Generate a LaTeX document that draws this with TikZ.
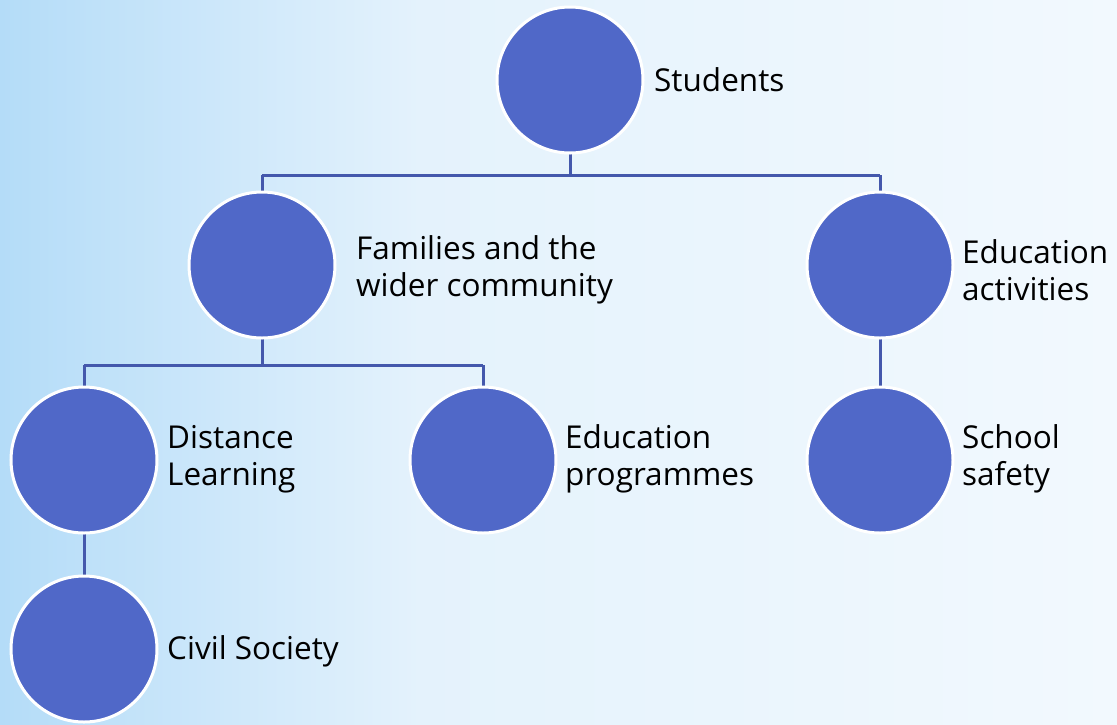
\documentclass[tikz,border=0pt]{standalone}
\usepackage{fontspec}
\setmainfont{Open Sans}
\definecolor{circfill}{HTML}{5068C8}
\definecolor{linecol}{HTML}{4458AC}
\definecolor{bgleft}{HTML}{B4DCF8}
\definecolor{bgmid}{HTML}{E4F2FC}
\definecolor{bgright}{HTML}{F2F9FE}
\tikzset{
  circ/.style={circle, fill=circfill, draw=white, line width=3pt, minimum size=146pt, inner sep=0pt},
  lbl/.style={anchor=west, align=left, font=\fontsize{31.5}{37}\selectfont, text=black, inner sep=0pt},
  conn/.style={draw=linecol, line width=3pt}
}
\begin{document}
\begin{tikzpicture}[x=1pt,y=-1pt]
\useasboundingbox (0,0) rectangle (1117,724);
\shade[left color=bgleft, right color=bgmid] (0,0) rectangle (420,724);
\shade[left color=bgmid, right color=bgright] (420,0) rectangle (1117,724);
\coordinate (j1) at (570,175);
\coordinate (j1l) at (262,175);
\coordinate (j1r) at (880,175);
\coordinate (j2) at (262,365);
\coordinate (j2l) at (84,365);
\coordinate (j2r) at (483,365);
\path (570,80) coordinate (stu)
      (262,265) coordinate (fam)
      (880,265) coordinate (eda)
      (84,460) coordinate (dis)
      (483,460) coordinate (edp)
      (880,460) coordinate (sch)
      (84,649) coordinate (civ);
\draw[conn] (stu) -- (j1);
\draw[conn] (j1l) -- (j1r);
\draw[conn] (j1l) -- (fam);
\draw[conn] (j1r) -- (eda);
\draw[conn] (fam) -- (j2);
\draw[conn] (j2l) -- (j2r);
\draw[conn] (j2l) -- (dis);
\draw[conn] (j2r) -- (edp);
\draw[conn] (dis) -- (civ);
\draw[conn] (eda) -- (sch);
\node[circ] (nstu) at (stu) {};
\node[circ] (nfam) at (fam) {};
\node[circ] (neda) at (eda) {};
\node[circ] (ndis) at (dis) {};
\node[circ] (nedp) at (edp) {};
\node[circ] (nsch) at (sch) {};
\node[circ] (nciv) at (civ) {};
\node[lbl] (tstu) at (654,80) {Students};
\node[lbl] (tfam) at (356,270) {Families and the\\wider community};
\node[lbl] (teda) at (962,270) {Education\\activities};
\node[lbl] (tdis) at (167,459) {Distance\\Learning};
\node[lbl] (tedp) at (565,459) {Education\\programmes};
\node[lbl] (tsch) at (962,459) {School\\safety};
\node[lbl] (tciv) at (167,651) {Civil Society};
\end{tikzpicture}
\end{document}
